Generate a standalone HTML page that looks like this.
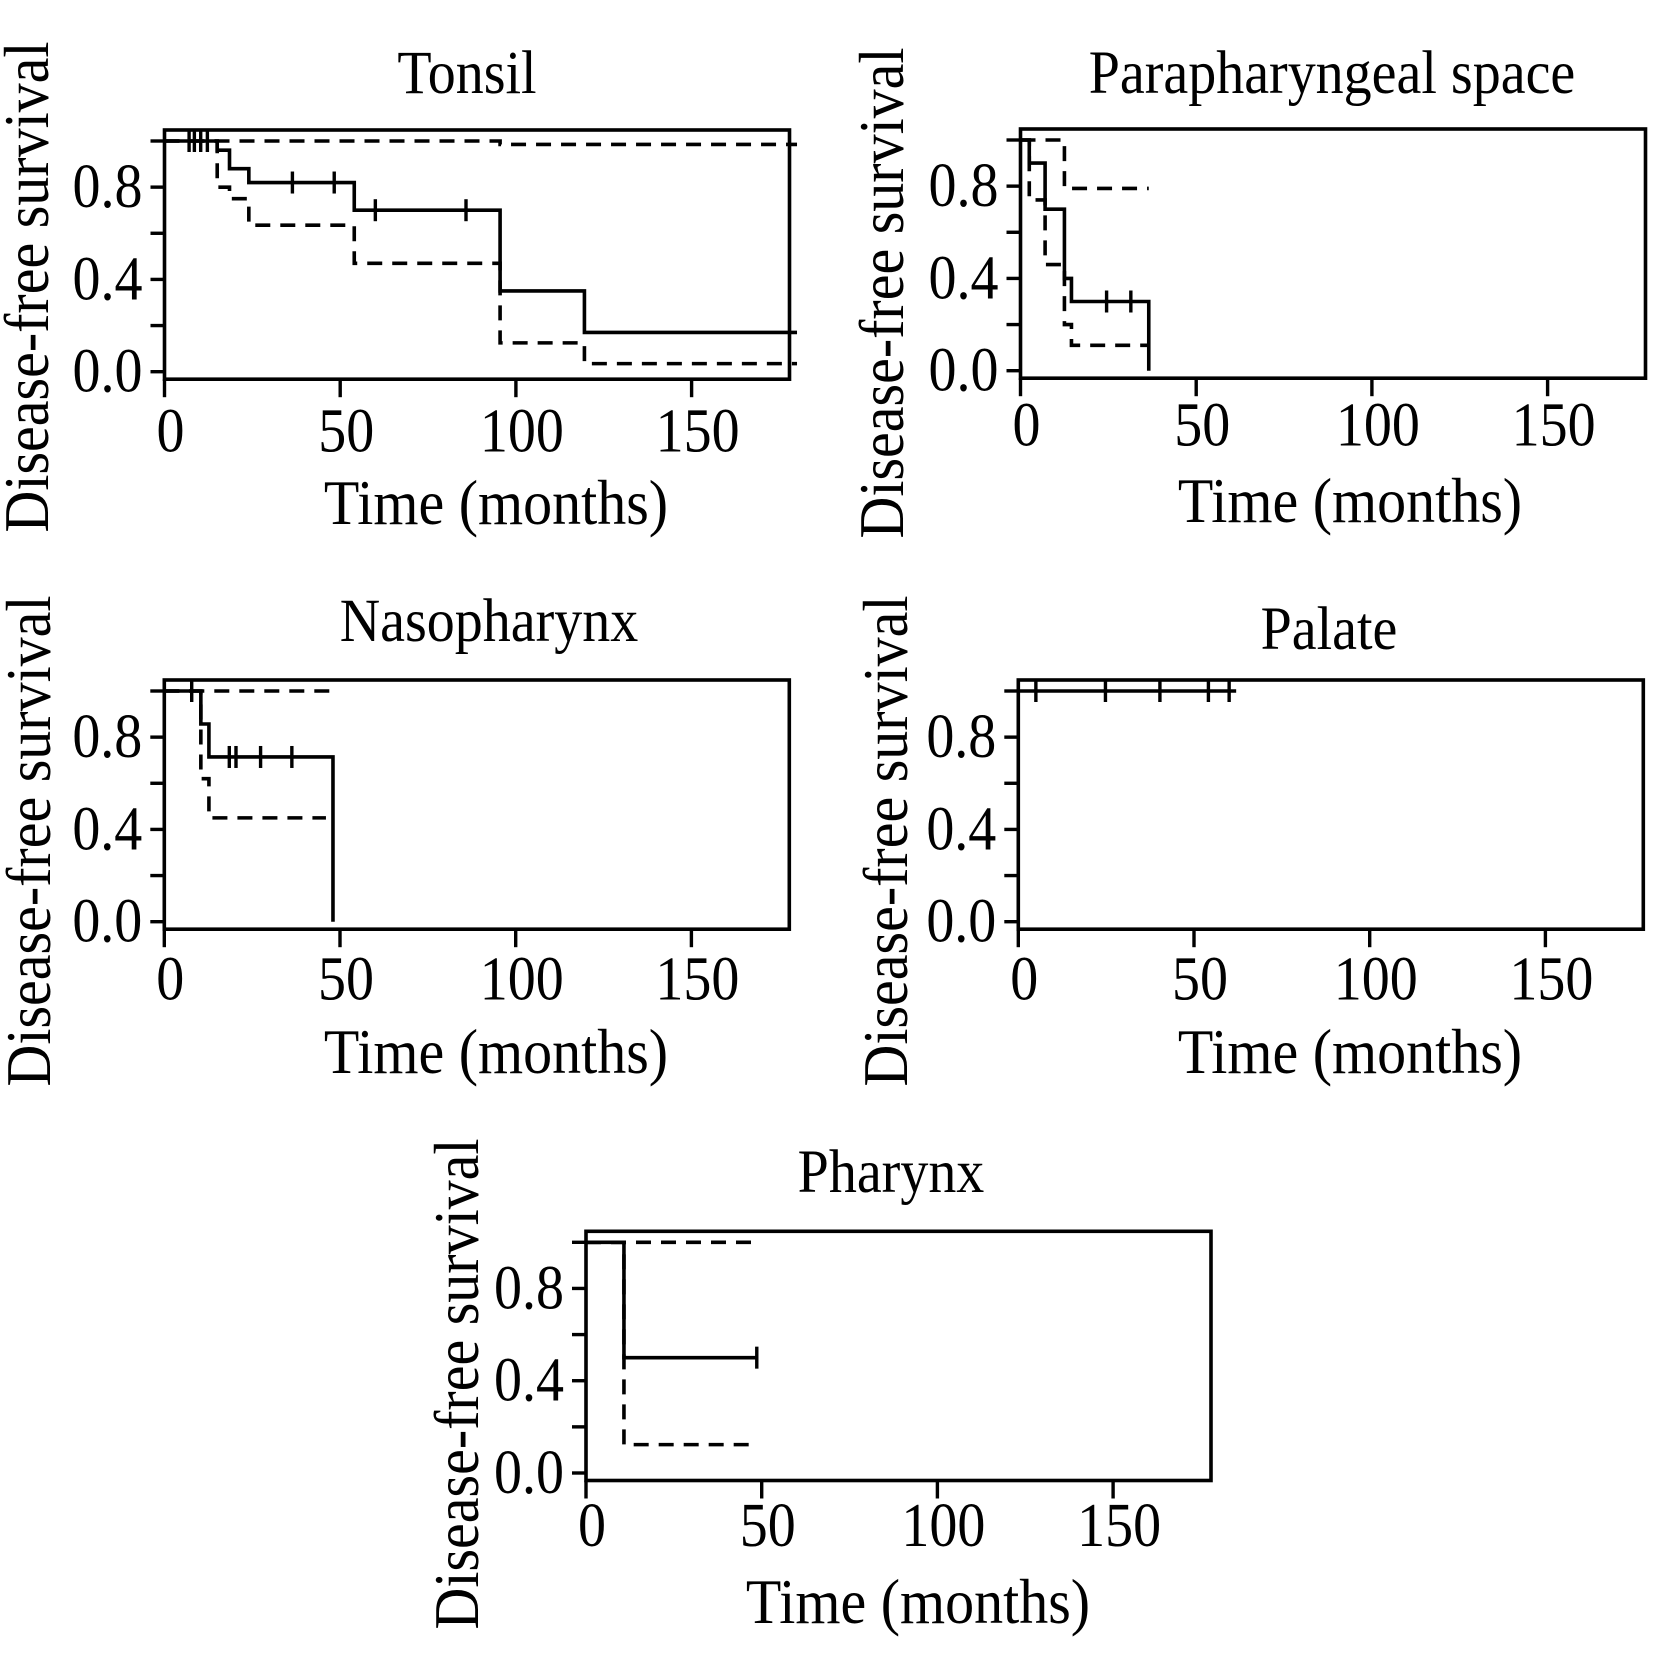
<!DOCTYPE html>
<html><head><meta charset="utf-8"><style>
html,body{margin:0;padding:0;background:#fff;}
svg{display:block;}
text{font-family:"Liberation Serif",serif;fill:#000;}
</style></head><body>
<svg id="fig" width="1654" height="1654" viewBox="0 0 1654 1654" xmlns="http://www.w3.org/2000/svg"></svg>
<script>
// ---- data ----
const xTicks = [0, 50, 100, 150];
const yTicks = [0, 0.2, 0.4, 0.6, 0.8, 1.0];
const yLabels = ["0.0", "", "0.4", "", "0.8", ""];

const tonsilTimes = [0, 15, 18.5, 24, 54, 95.5, 119.5, 180];
const tonsilSurv = [1, 0.96, 0.88, 0.82, 0.70, 0.35, 0.17, 0.17];
const tonsilUpperTimes = [0, 95.5, 180];
const tonsilUpper = [1, 0.985, 0.985];
const tonsilLowerTimes = [0, 15, 18.5, 24, 54, 95.5, 119.5, 180];
const tonsilLower = [1, 0.8, 0.75, 0.635, 0.47, 0.125, 0.035, 0.035];
const tonsilCensor = [7, 8.5, 10.3, 12.2, 36.4, 48.3, 60, 85.8];

const paraTimes = [0, 2.5, 7, 12.5, 14.5, 36.5];
const paraSurv = [1, 0.9, 0.7, 0.4, 0.3, 0];
const paraUpperTimes = [0, 12.5, 36.5];
const paraUpper = [1, 0.79, 0.79];
const paraLowerTimes = [0, 2.5, 7, 12.5, 14.5, 36.5];
const paraLower = [1, 0.74, 0.46, 0.2, 0.11, 0.11];
const paraCensor = [24.5, 31.4];

const nasoTimes = [0, 10.4, 12.7, 48];
const nasoSurv = [1, 0.857, 0.714, 0];
const nasoUpperTimes = [0, 48];
const nasoUpper = [1, 1];
const nasoLowerTimes = [0, 10.4, 12.7, 46];
const nasoLower = [1, 0.62, 0.45, 0.45];
const nasoCensor = [7.8, 18.5, 20.4, 27.4, 36.3];

const palateTimes = [0, 62];
const palateSurv = [1, 1];
const palateCensor = [5, 24.8, 40.3, 54.1, 60];

const pharTimes = [0, 10.8, 48.6];
const pharSurv = [1, 0.5, 0.5];
const pharUpperTimes = [0, 48.6];
const pharUpper = [1, 1];
const pharLowerTimes = [0, 10.8, 48.6];
const pharLower = [1, 0.123, 0.123];
const pharCensor = [48.6];

// ---- drawing ----
const NS = "http://www.w3.org/2000/svg";
const svg = document.getElementById("fig");
const PX_PER_MONTH = 3.514, YSPAN = 230.7, BOXW = 625;

function mk(tag, attrs, parent) {
  const e = document.createElementNS(NS, tag);
  for (const k in attrs) e.setAttribute(k, attrs[k]);
  parent.appendChild(e);
  return e;
}
function txt(parent, s, attrs) { const t = mk("text", attrs, parent); t.textContent = s; return t; }

function panel(p) {
  const g = mk("g", {}, svg);
  
  
  const sx = m => p.left + m * PX_PER_MONTH;
  const sy = v => p.y1 + (1 - v) * YSPAN;
  const top = p.y1 - 11, bottom = p.y1 + YSPAN + 7.5;
  const box = mk("rect", {x: p.left, y: top, width: BOXW, height: bottom - top, fill: "none", stroke: "#000", "stroke-width": 3.6}, g);
  
  
  yTicks.forEach((v, i) => {
    const l = mk("line", {x1: p.left - 14, x2: p.left, y1: sy(v), y2: sy(v), stroke: "#000", "stroke-width": 3.4}, g);
    
    
    if (yLabels[i]) {
      const t = txt(g, yLabels[i], {x: 0, y: 0, "font-size": 56, "text-anchor": "end", transform: `translate(${p.left - 22},${sy(v) + 20}) scale(1,1.12)`});
      
      
    }
  });
  xTicks.forEach(m => {
    const l = mk("line", {x1: sx(m), x2: sx(m), y1: bottom, y2: bottom + 18, stroke: "#000", "stroke-width": 3.4}, g);
    
    
    const t = txt(g, String(m), {x: 0, y: 0, "font-size": 56, "text-anchor": "middle", transform: `translate(${sx(m) + 6},${p.y1 + YSPAN + p.labOff}) scale(1,1.12)`});
    
    
  });
  const title = txt(g, p.title, {x: 0, y: 0, "font-size": 56, "text-anchor": "middle", transform: `translate(${p.titleX},${p.titleY}) scale(1,1.1)`});
  
  
  const xt = txt(g, "Time (months)", {x: 0, y: 0, "font-size": 58, "text-anchor": "middle", transform: `translate(${p.xtX},${p.xtY}) scale(1,1.1)`});
  
  
  const yt = txt(g, "Disease-free survival", {x: 0, y: 0, "font-size": 58, "text-anchor": "middle", transform: `translate(${p.ytX},${p.ytY}) rotate(-90) scale(1,1.1)`});
  
  

  function step(times, vals, dashed, nm) {
    let d = `M${sx(times[0])},${sy(vals[0])}`;
    for (let i = 1; i < times.length; i++) {
      d += ` H${sx(times[i])} V${sy(vals[i])}`;
    }
    const path = mk("path", {d, fill: "none", stroke: "#000", "stroke-width": 3.6, "stroke-dasharray": dashed ? "15 10" : "none"}, g);
    
    
  }
  if (p.lt) step(p.lt, p.lv, true, 'lower-ci-line');
  if (p.ut) step(p.ut, p.uv, true, 'upper-ci-line');
  step(p.t, p.s, false, 'survival-curve');
  (p.c || []).forEach(m => {
    let v = p.s[0];
    for (let i = 0; i < p.t.length; i++) if (p.t[i] <= m) v = p.s[i];
    const l = mk("line", {x1: sx(m), x2: sx(m), y1: sy(v) - 11, y2: sy(v) + 11, stroke: "#000", "stroke-width": 3.4}, g);
    
    
  });
}

panel({name: "tonsil-panel", title: "Tonsil", left: 164.5, y1: 141, labOff: 80,
  titleX: 467, titleY: 93, xtX: 496, xtY: 524, ytX: 48, ytY: 287,
  t: tonsilTimes, s: tonsilSurv, ut: tonsilUpperTimes, uv: tonsilUpper, lt: tonsilLowerTimes, lv: tonsilLower, c: tonsilCensor});
panel({name: "parapharyngeal-panel", title: "Parapharyngeal space", left: 1020.5, y1: 140, labOff: 75,
  titleX: 1332, titleY: 93, xtX: 1350, xtY: 522, ytX: 903, ytY: 293,
  t: paraTimes, s: paraSurv, ut: paraUpperTimes, uv: paraUpper, lt: paraLowerTimes, lv: paraLower, c: paraCensor});
panel({name: "nasopharynx-panel", title: "Nasopharynx", left: 164.3, y1: 691, labOff: 78,
  titleX: 489, titleY: 641, xtX: 496, xtY: 1073, ytX: 50, ytY: 841,
  t: nasoTimes, s: nasoSurv, ut: nasoUpperTimes, uv: nasoUpper, lt: nasoLowerTimes, lv: nasoLower, c: nasoCensor});
panel({name: "palate-panel", title: "Palate", left: 1018.3, y1: 691, labOff: 78,
  titleX: 1329, titleY: 649, xtX: 1350, xtY: 1073, ytX: 907, ytY: 841,
  t: palateTimes, s: palateSurv, c: palateCensor});
panel({name: "pharynx-panel", title: "Pharynx", left: 586, y1: 1242.3, labOff: 73,
  titleX: 891, titleY: 1192, xtX: 918, xtY: 1623, ytX: 478, ytY: 1384,
  t: pharTimes, s: pharSurv, ut: pharUpperTimes, uv: pharUpper, lt: pharLowerTimes, lv: pharLower, c: pharCensor});
</script>
</body></html>
